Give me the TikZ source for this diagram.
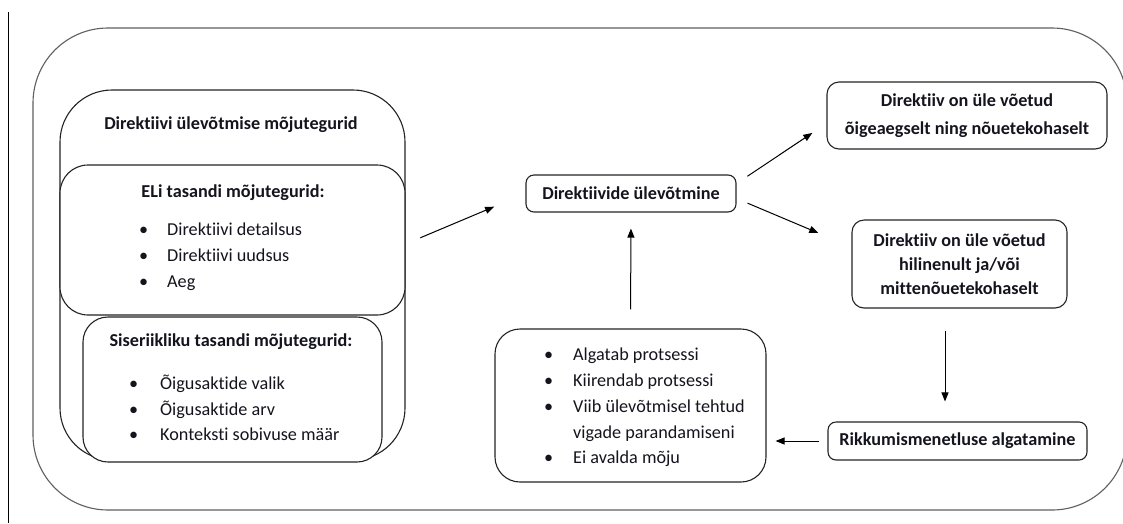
\documentclass[tikz,border=0pt]{standalone}
\usepackage{fontspec}
\setmainfont{Carlito}[Ligatures=NoCommon]
\usetikzlibrary{arrows.meta}
\definecolor{frameLine}{RGB}{95,95,95}
\definecolor{boxLine}{RGB}{35,35,35}
\definecolor{ink}{RGB}{20,20,30}
\newcommand{\bul}[1]{\makebox[#1][l]{•}}

\begin{document}
\begin{tikzpicture}[x=1pt,y=-1pt,
  box/.style={draw=boxLine,line width=1.1pt,inner sep=0pt},
  head/.style={font=\bfseries\fontsize{18.2}{28}\selectfont,text=ink,align=center},
  items/.style={font=\fontsize{18.2}{25.8}\selectfont,text=ink,anchor=west,align=left,inner sep=0pt},
  arr/.style={draw=black,line width=1pt,-{Triangle[length=9pt,width=7pt]}}]
  \useasboundingbox (0,0) rectangle (1123,523);
  \draw[black,line width=1pt] (8,12) -- (8,523);

  % outer frame
  \node[box,draw=frameLine,minimum width=1094,minimum height=482,rounded corners=75] (frame) at (580,269) {};

  % factors
  \node[box,minimum width=345,minimum height=370,rounded corners=52] (mo) at (232.5,275) {};
  \node[box,fill=white,minimum width=345,minimum height=150,rounded corners=28] (eli) at (232.5,240) {};
  \node[box,fill=white,minimum width=299,minimum height=145,rounded corners=25] (sis) at (232.5,389.5) {};
  \node[head] (moT) at (231,125) {Direktiivi ülevõtmise mõjutegurid};
  \node[head] (eliT) at (233,193) {ELi tasandi mõjutegurid:};
  \node[items] (eliL) at (139,257) {\bul{28pt}Direktiivi detailsus\\\bul{28pt}Direktiivi uudsus\\\bul{28pt}Aeg};
  \node[head] (sisT) at (231,342) {Siseriikliku tasandi mõjutegurid:};
  \node[items] (sisL) at (129,408) {\bul{31pt}Õigusaktide valik\\\bul{31pt}Õigusaktide arv\\\bul{31pt}Konteksti sobivuse määr};

  % process
  \node[box,head,minimum width=210,minimum height=37,rounded corners=8] (dir) at (631,193.5) {Direktiivide ülevõtmine};
  \node[box,head,minimum width=280,minimum height=67,rounded corners=12] (ok) at (967,115.5) {Direktiiv on üle võetud\\õigeaegselt ning nõuetekohaselt};
  \node[box,head,minimum width=215,minimum height=88,rounded corners=12,font=\bfseries\fontsize{18.2}{24}\selectfont] (late) at (959.5,264) {Direktiiv on üle võetud\\hilinenult ja/või\\mittenõuetekohaselt};
  \node[box,head,minimum width=259,minimum height=38,rounded corners=8] (rik) at (957.5,441) {Rikkumismenetluse algatamine};
  \node[box,minimum width=271,minimum height=153,rounded corners=25] (eff) at (630.5,405.5) {};
  \node[items] (effL) at (544,407.5) {\bul{29pt}Algatab protsessi\\\bul{29pt}Kiirendab protsessi\\\bul{29pt}Viib ülevõtmisel tehtud\\\hspace{29pt}vigade parandamiseni\\\bul{29pt}Ei avalda mõju};

  % arrows
  \draw[arr,shorten <=16pt,shorten >=34pt] ([yshift=31pt]mo.east) -- (dir.west);
  \draw[arr,shorten <=13pt,shorten >=17pt] ([yshift=10pt]dir.east) -- ([yshift=-8pt]ok.west);
  \draw[arr,shorten <=12pt,shorten >=36pt] ([yshift=-5pt]dir.east) -- ([yshift=17pt]late.west);
  \draw[arr,shorten <=22pt,shorten >=20pt] ([xshift=-14.5pt]late.south) -- ([xshift=-12.5pt]rik.north);
  \draw[arr,shorten <=8pt,shorten >=9pt] (rik.west) -- ([yshift=-35.5pt]eff.east);
  \draw[arr,shorten <=19pt,shorten >=16pt] (eff.north) -- (dir.south);
\end{tikzpicture}
\end{document}
